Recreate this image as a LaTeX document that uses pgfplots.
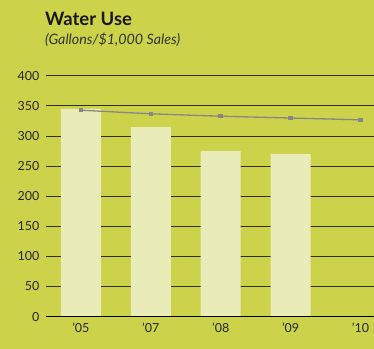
\documentclass[border=0pt]{standalone}
\usepackage{pgfplots}
\pgfplotsset{compat=1.18}
\usepackage{fontspec}
\setmainfont{Lato}
\definecolor{bg}{HTML}{CDD24B}
\definecolor{barc}{HTML}{E9ECB9}
\definecolor{gridc}{HTML}{2E3010}
\definecolor{linec}{HTML}{878787}
\begin{document}
\begin{tikzpicture}
\fill[bg] (-46pt,-32pt) rectangle (328pt,317pt);
\begin{axis}[
  at={(0,0)}, anchor=south west,
  scale only axis, width=328pt, height=241pt,
  xmin=-0.5, xmax=4.186, ymin=0, ymax=400,
  xtick={0,1,2,3,4}, xticklabels={’05,’07,’08,’09,’10},
  ytick={0,50,100,150,200,250,300,350,400},
  axis line style={draw=none},
  tick style={draw=none},
  ymajorgrids, major grid style={line width=1pt, color=gridc},
  /pgf/number format/assume math mode=true,
  ticklabel style={font=\fontsize{12.5}{14}\selectfont, text=black!85},
  yticklabel style={xshift=-3pt},
  xticklabel style={yshift=-3pt},
  axis on top=false,
]
\addplot[ybar, bar width=40pt, fill=barc, draw=none] coordinates {(0,345) (1,315) (2,275) (3,270)};
\draw[black, line width=1pt] (axis cs:-0.5,0) -- (axis cs:4.186,0);
\addplot[linec, line width=1.3pt, mark=square*, mark size=1.6pt, mark options={fill=linec}] coordinates {(0,343) (1,337) (2,333) (3,330) (4,327)};
\end{axis}
\node[anchor=base west, inner sep=0pt, font=\fontsize{18.5}{20}\selectfont\bfseries, text=black!90] at (-1pt,291pt) {Water Use};
\node[anchor=base west, inner sep=0pt, font=\fontsize{14.3}{16}\selectfont\itshape, text=black!80] at (-1pt,272pt) {(Gallons/\$1,000 Sales)};
\end{tikzpicture}
\end{document}
